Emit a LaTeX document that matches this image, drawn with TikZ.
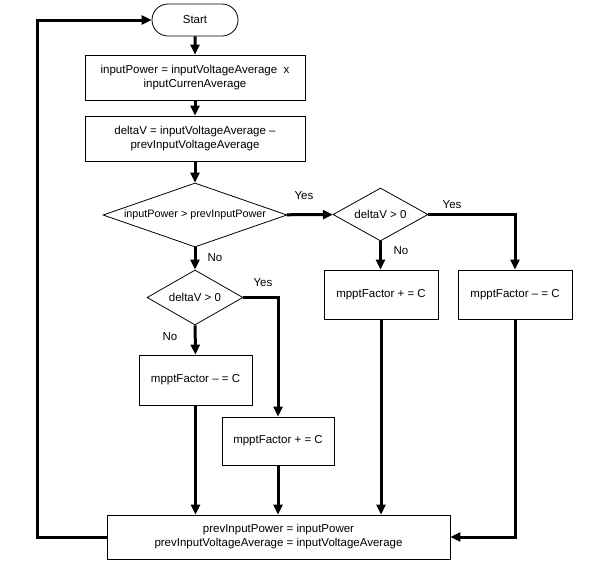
\documentclass[tikz,border=0pt]{standalone}
\usepackage{fontspec}
\setmainfont{Liberation Sans}
\usetikzlibrary{arrows.meta,shapes.geometric,shapes.misc}
\begin{document}
\begin{tikzpicture}[x=1pt,y=-1pt,
  every node/.style={font=\fontsize{11.5}{14}\selectfont},
  box/.style={draw,line width=0.8pt,inner sep=0pt,align=center},
  dia/.style={draw,diamond,line width=0.8pt,inner sep=0pt},
  term/.style={draw,rounded rectangle,line width=0.8pt,inner sep=0pt,minimum width=86pt,minimum height=32pt},
  lbl/.style={inner sep=0pt},
  conn/.style={line width=3pt,-{Triangle[length=10pt,width=9pt]}}]
\useasboundingbox (0,0) rectangle (594,566);
\node[term] (start) at (195,20) {Start};
\node[box,minimum width=220pt,minimum height=45pt] (b1) at (195,77.5) {inputPower = inputVoltageAverage\ \ x\\inputCurrenAverage};
\node[box,minimum width=220pt,minimum height=45pt] (b2) at (195,138.5) {deltaV = inputVoltageAverage --\\prevInputVoltageAverage};
\node[dia,shape aspect=2.9,minimum width=184pt,minimum height=64pt,font=\fontsize{10.8}{13}\selectfont] (d1) at (195,215) {inputPower > prevInputPower};
\node[dia,shape aspect=1.8,minimum width=95pt,minimum height=53pt] (d2) at (380.5,214.5) {deltaV > 0};
\node[dia,shape aspect=1.8,minimum width=96pt,minimum height=55pt] (d3) at (195,297.5) {deltaV > 0};
\node[box,minimum width=114pt,minimum height=49pt] (r1) at (381,294.5) {mpptFactor + = C};
\node[box,minimum width=114pt,minimum height=49pt] (r2) at (515,294.5) {mpptFactor -- = C};
\node[box,minimum width=113pt,minimum height=50pt] (l1) at (195.5,380) {mpptFactor -- = C};
\node[box,minimum width=112pt,minimum height=48pt] (m1) at (278,441) {mpptFactor + = C};
\node[box,minimum width=343pt,minimum height=44pt] (bot) at (278.5,537) {prevInputPower = inputPower\\prevInputVoltageAverage = inputVoltageAverage};
\node[lbl] (y1) at (304,196) {Yes};
\node[lbl] (y2) at (452,205) {Yes};
\node[lbl] (y3) at (263,283) {Yes};
\node[lbl] (n1) at (215,258) {No};
\node[lbl] (n2) at (401,251) {No};
\node[lbl] (n3) at (170,337) {No};
\coordinate (c1) at (515,214.5);
\coordinate (c2) at (278,297.5);
\coordinate (c3) at (515,537);
\coordinate (c4) at (37,537);
\coordinate (c5) at (37,20);
\draw[conn] (start) -- (b1);
\draw[conn] (b1) -- (b2);
\draw[conn] (b2) -- (d1);
\draw[conn] (d1) -- (d2);
\draw[conn] (d1) -- (d3);
\draw[conn] (d2) -- (d2 |- r1.north);
\draw[conn] (d2.east) -- (c1) -- (r2);
\draw[conn] (d3) -- (l1);
\draw[conn] (d3.east) -- (c2) -- (m1);
\draw[conn] (l1) -- (l1 |- bot.north);
\draw[conn] (m1) -- (m1 |- bot.north);
\draw[conn] (r1) -- (r1 |- bot.north);
\draw[conn] (r2) -- (c3) -- (bot);
\draw[conn] (bot) -- (c4) -- (c5) -- (start);
\end{tikzpicture}
\end{document}
